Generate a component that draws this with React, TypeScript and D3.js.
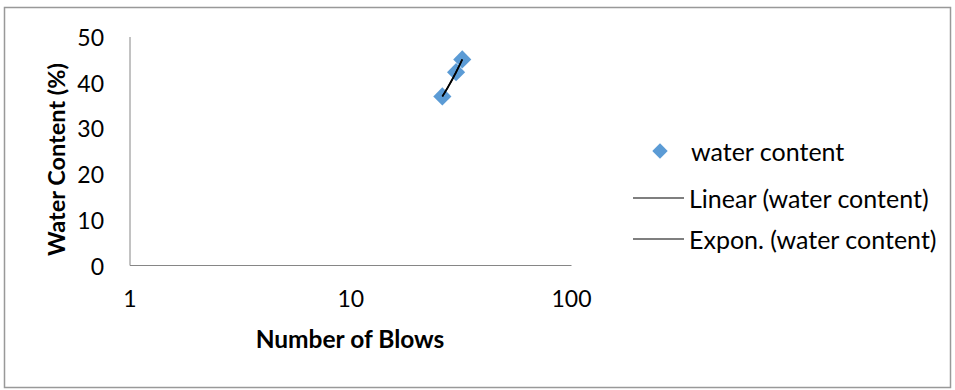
import * as d3 from "d3";

// data
const blows = [26, 30, 32];
const waterContent = [37.0, 42.3, 45.1];
const yTicks = [0, 10, 20, 30, 40, 50];
const xTicks = [1, 10, 100];
const legendLabels = ["water content", "Linear (water content)", "Expon. (water content)"];

const W = 955;
const H = 390;
const FONT = "Lato, 'Open Sans', sans-serif";
const BLUE = "#5B9BD5";

// least squares helper
function linFit(xs: number[], ys: number[]) {
  const mx = d3.mean(xs)!;
  const my = d3.mean(ys)!;
  let sxy = 0, sxx = 0;
  xs.forEach((x, i) => {
    sxy += (x - mx) * (ys[i] - my);
    sxx += (x - mx) * (x - mx);
  });
  const b = sxy / sxx;
  return { a: my - b * mx, b };
}

export default function App() {
  const x = d3.scaleLog().domain([1, 100]).range([130, 571.5]);
  const y = d3.scaleLinear().domain([0, 50]).range([265.5, 37]);

  const pts = blows.map((b, i) => ({ b, w: waterContent[i] }));

  // trendlines over the data range
  const lin = linFit(blows, waterContent);
  const ex = linFit(blows, waterContent.map((v) => Math.log(v)));
  const [x0, x1] = d3.extent(blows) as [number, number];
  const samples = d3.range(0, 21).map((i) => x0 + ((x1 - x0) * i) / 20);
  const line = d3
    .line<number[]>()
    .x((d) => x(d[0]))
    .y((d) => y(d[1]));
  const linPath = line(samples.map((s) => [s, lin.a + lin.b * s]));
  const expPath = line(samples.map((s) => [s, Math.exp(ex.a + ex.b * s)]));

  const diamond = d3.symbol().type(d3.symbolDiamond2).size(210)();

  const legendX = 633;
  const legendY = [151, 198, 239];

  return (
    <svg
      width={W}
      height={H}
      style={{ position: "absolute", left: 0, top: 0, background: "#fff" }}
      fontFamily={FONT}
    >
      <rect x={4.5} y={7.5} width={946} height={380} fill="#fff" stroke="#999" strokeWidth={1.5} />

      {/* axes */}
      <line x1={x(1)} x2={x(1)} y1={y(0)} y2={y(50)} stroke="#868686" />
      <line x1={x(1)} x2={x(100)} y1={y(0)} y2={y(0)} stroke="#868686" />

      {yTicks.map((t) => (
        <text key={t} x={104} y={y(t)} textAnchor="end" dominantBaseline="central" fontSize={23} fill="#000">
          {t}
        </text>
      ))}
      {xTicks.map((t) => (
        <text key={t} x={x(t)} y={307} textAnchor="middle" fontSize={23} fill="#000">
          {t}
        </text>
      ))}

      <text x={350} y={348} textAnchor="middle" fontSize={24.5} fontWeight="bold" fill="#000">
        Number of Blows
      </text>
      <text
        transform={`translate(65,159.5) rotate(-90)`}
        textAnchor="middle"
        fontSize={23.5}
        fontWeight="bold"
        fill="#000"
      >
        Water Content (%)
      </text>

      {/* points */}
      {pts.map((p, i) => (
        <path key={i} d={diamond!} transform={`translate(${x(p.b)},${y(p.w)})`} fill={BLUE} />
      ))}

      {/* trendlines */}
      <path d={linPath!} fill="none" stroke="#000" strokeWidth={1.6} />
      <path d={expPath!} fill="none" stroke="#000" strokeWidth={1.6} />

      {/* legend */}
      <path d={diamond!} transform={`translate(660,${legendY[0]}) scale(0.85)`} fill={BLUE} />
      <line x1={legendX} x2={legendX + 51} y1={legendY[1]} y2={legendY[1]} stroke="#000" strokeWidth={1.2} />
      <line x1={legendX} x2={legendX + 51} y1={legendY[2]} y2={legendY[2]} stroke="#000" strokeWidth={1.2} />
      {legendLabels.map((l, i) => (
        <text key={l} x={i === 0 ? 691 : 689} y={legendY[i]} dominantBaseline="central" fontSize={25} fill="#000">
          {l}
        </text>
      ))}
    </svg>
  );
}
